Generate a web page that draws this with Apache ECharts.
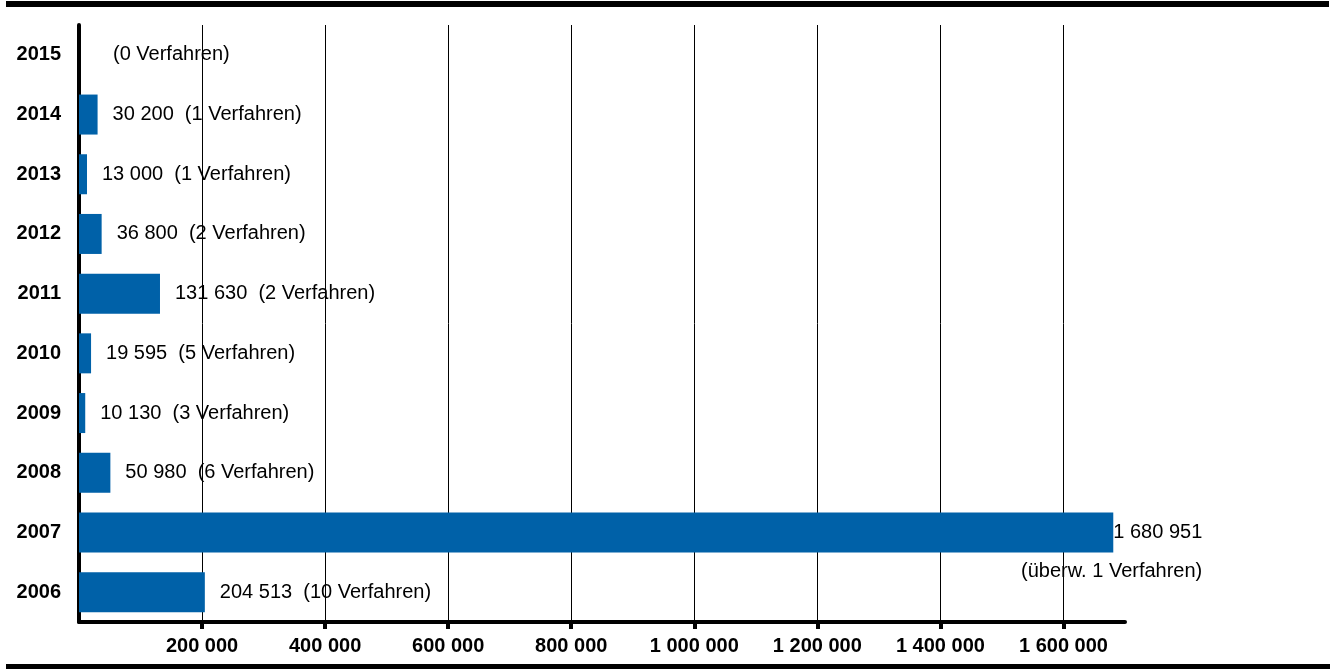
<!DOCTYPE html>
<html><head><meta charset="utf-8">
<script src="https://cdn.jsdelivr.net/npm/echarts@6/dist/echarts.min.js"></script>
<style>html,body{margin:0;padding:0;background:#fff}#c{width:1330px;height:669px}</style>
</head><body><div id="c"></div>
<script>
// Data (top to bottom)
const years = ['2015', '2014', '2013', '2012', '2011', '2010', '2009', '2008', '2007', '2006'];
const amounts = [0, 30200, 13000, 36800, 131630, 19595, 10130, 50980, 1680951, 204513];
const procedures = ['(0 Verfahren)', '(1 Verfahren)', '(1 Verfahren)', '(2 Verfahren)', '(2 Verfahren)',
  '(5 Verfahren)', '(3 Verfahren)', '(6 Verfahren)', '(überw. 1 Verfahren)', '(10 Verfahren)'];
const xTickValues = [0, 200000, 400000, 600000, 800000, 1000000, 1200000, 1400000, 1600000];
const xMax = 1700000;
const xInterval = 200000;

const fmt = v => String(v).replace(/\B(?=(\d{3})+(?!\d))/g, ' ');
const FONT = '"Liberation Sans", Arial, Helvetica, sans-serif';

const chart = echarts.init(document.getElementById('c'), null, {renderer: 'canvas'});

const seriesData = amounts.map((v, i) => {
  const item = {value: v};
  if (years[i] === '2007') {
    item.label = {align: 'right', distance: 0, offset: [89, 19.5], lineHeight: 39};
  } else if (v === 0) {
    item.label = {distance: 34};
  }
  return item;
});

chart.setOption({
  animation: false,
  backgroundColor: '#fff',
  grid: {left: 79, right: 205, top: 25, bottom: 47, containLabel: false},
  xAxis: {
    type: 'value', min: 0, max: xMax, interval: xInterval,
    axisLine: {show: true, lineStyle: {color: '#000', width: 4}},
    axisTick: {show: true, inside: false, length: 7, lineStyle: {color: '#000', width: 4}, customValues: xTickValues},
    splitLine: {show: true, showMinLine: false, showMaxLine: true, lineStyle: {color: '#000', width: 1}},
    axisLabel: {
      color: '#000', fontSize: 20, fontWeight: 'bold', fontFamily: FONT, margin: 14,
      showMinLabel: false,
      formatter: v => (v === 0 || v === xMax) ? '' : fmt(v)
    }
  },
  yAxis: {
    type: 'category', data: years, inverse: true,
    axisLine: {show: true, lineStyle: {color: '#000', width: 4}},
    axisTick: {show: false},
    splitLine: {show: false},
    axisLabel: {color: '#000', fontSize: 20, fontWeight: 'bold', fontFamily: FONT, margin: 18}
  },
  series: [{
    type: 'bar',
    data: seriesData,
    barWidth: 40,
    itemStyle: {color: '#0061A8'},
    label: {
      show: true, position: 'right', distance: 15,
      color: '#000', fontSize: 20, fontFamily: FONT,
      formatter: p => {
        const i = p.dataIndex;
        const v = amounts[i];
        if (years[i] === '2007') return fmt(v) + '\n' + procedures[i];
        return (v ? fmt(v) + '  ' : '') + procedures[i];
      }
    }
  }],
  graphic: [
    {type: 'rect', silent: true, shape: {x: 6, y: 1, width: 1323, height: 6}, style: {fill: '#000'}},
    {type: 'rect', silent: true, shape: {x: 6, y: 664, width: 1324, height: 5}, style: {fill: '#000'}}
  ]
});
</script>
</body></html>
